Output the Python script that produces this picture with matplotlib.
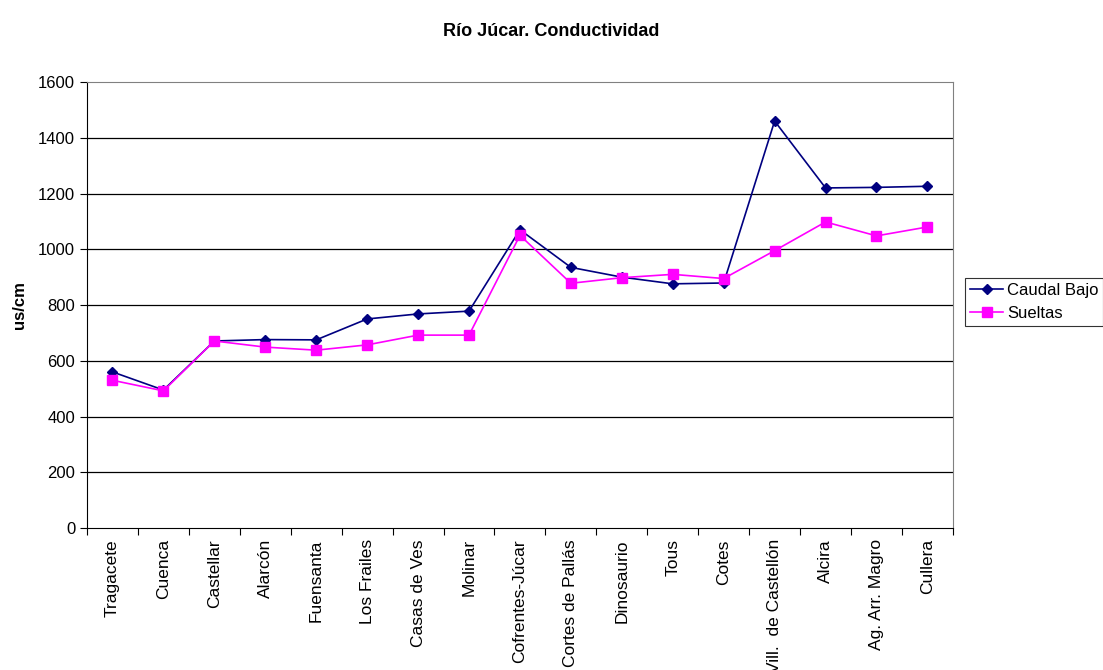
import matplotlib
matplotlib.use("Agg")
import matplotlib.pyplot as plt
import numpy as np

plt.rcParams['font.family'] = ['Liberation Sans', 'DejaVu Sans']

# estaciones de muestreo
estaciones = ['Tragacete', 'Cuenca', 'Castellar', 'Alarcón', 'Fuensanta',
              'Los Frailes', 'Casas de Ves', 'Molinar', 'Cofrentes-Júcar',
              'Cortes de Pallás', 'Dinosaurio', 'Tous', 'Cotes',
              'Vill.  de Castellón', 'Alcira', 'Ag. Arr. Magro', 'Cullera']

# conductividad (us/cm)
caudal_bajo = [560, 495, 671, 676, 675, 750, 768, 778, 1070, 935, 900, 876,
               879, 1460, 1220, 1222, 1226]
sueltas = [530, 492, 671, 649, 638, 657, 692, 692, 1050, 878, 898, 910,
           895, 995, 1098, 1048, 1080]

yticks = [0, 200, 400, 600, 800, 1000, 1200, 1400, 1600]

fig = plt.figure(figsize=(11.03, 6.70), dpi=100)
ax = fig.add_axes([0.0789, 0.2119, 0.785, 0.6657])

x = np.arange(len(estaciones))
l1, = ax.plot(x, caudal_bajo, color='#000080', marker='D', markersize=5,
              linewidth=1.2, label='Caudal Bajo', zorder=3)
l2, = ax.plot(x, sueltas, color='#FF00FF', marker='s', markersize=6.5,
              linewidth=1.2, label='Sueltas', zorder=3)

ax.set_xlim(-0.5, len(estaciones) - 0.5)
ax.set_ylim(0, 1600)
ax.set_yticks(yticks)
for v in yticks[1:-1]:
    ax.axhline(v, color='black', linewidth=0.9, zorder=1)

ax.set_xticks(x)
ax.set_xticklabels(estaciones, rotation=90, fontsize=12.5)
ax.set_xticks(np.arange(-0.5, len(estaciones)), minor=True)
ax.tick_params(axis='x', which='major', length=0, pad=8)
ax.tick_params(axis='x', which='minor', length=5, direction='out', width=0.8)
ax.tick_params(axis='y', length=5, direction='out', width=0.8, labelsize=12)

for s in ['top', 'right']:
    ax.spines[s].set_color('#808080')
for s in ['left', 'bottom']:
    ax.spines[s].set_color('black')

ax.set_ylabel('us/cm', fontsize=12, fontweight='bold', labelpad=8)
fig.suptitle('Río Júcar. Conductividad', fontsize=13, fontweight='bold',
             y=0.965)

leg = fig.legend(handles=[l1, l2], loc='upper left',
                 bbox_to_anchor=(0.875, 0.585), fontsize=12, frameon=True,
                 fancybox=False, edgecolor='black', borderpad=0.3,
                 labelspacing=0.45, handlelength=2.0, handletextpad=0.2,
                 borderaxespad=0)
leg.get_frame().set_linewidth(0.8)

plt.savefig('out.png', dpi=100)
